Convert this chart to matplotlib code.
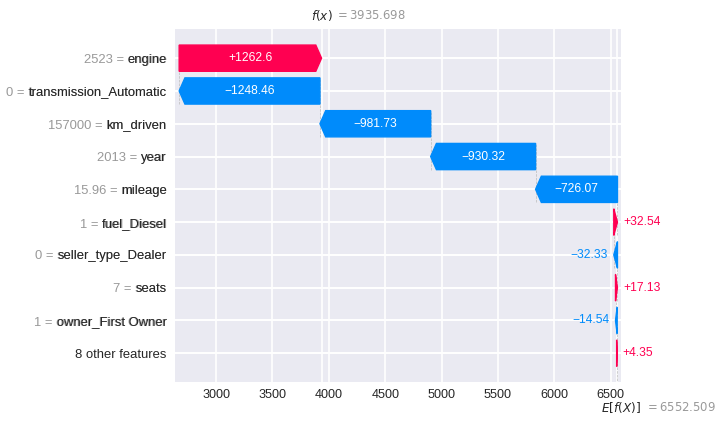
import numpy as np
import matplotlib
matplotlib.use("Agg")
import matplotlib.pyplot as plt

# waterfall data, top row first
features = ["engine", "transmission_Automatic", "km_driven", "year", "mileage",
            "fuel_Diesel", "seller_type_Dealer", "seats", "owner_First Owner",
            "8 other features"]
feature_values = ["2523", "0", "157000", "2013", "15.96", "1", "0", "7", "1", None]
shap_values = [1262.6, -1248.46, -981.73, -930.32, -726.07,
               32.54, -32.33, 17.13, -14.54, 4.35]
base_value = 6552.509
fx = 3935.698
xticks = [3000, 3500, 4000, 4500, 5000, 5500, 6000, 6500]

red = "#ff0051"
blue = "#008bfb"
grey = "#999999"
dark = "#262626"

plt.rcParams['font.family'] = ['Liberation Sans', 'DejaVu Sans']


def fmt(v):
    s = "%+0.02f" % v
    s = s.rstrip("0").rstrip(".")
    return s.replace("-", "\u2212")


fig = plt.figure(figsize=(7.18, 4.24), dpi=100)
ax = fig.add_axes([0.2437, 0.0991, 0.6212, 0.8325])
ax.set_facecolor("#EAEAF2")
for s in ax.spines.values():
    s.set_visible(False)
ax.grid(True, color="white", lw=1.2)
ax.set_axisbelow(True)

xmin, xmax = 2636, 6591
ax.set_xlim(xmin, xmax)
ax.set_ylim(-0.876, 9.89)

n = len(features)
rows = np.arange(n)[::-1]
bar_w = 0.8

# arrow head is a fixed size in pixels, converted to data units
ax_px = ax.get_position().width * fig.get_figwidth() * fig.dpi
hl = 5.76 * (xmax - xmin) / ax_px
renderer = fig.canvas.get_renderer()

# white lines for f(x) and E[f(X)]
ax.axvline(fx, color="white", lw=1.2, zorder=0.6)
ax.axvline(base_value, color="white", lw=1.2, zorder=0.6)

loc = fx
for i in range(n):
    v = shap_values[i]
    y = rows[i]
    loc -= v
    color = red if v >= 0 else blue
    d = abs(v)
    sign = 1 if v >= 0 else -1
    ax.arrow(loc, y, sign * max(d - hl, 1e-6), 0, head_length=min(d, hl),
             width=bar_w, head_width=bar_w, color=color, zorder=2)
    ax.plot([loc, loc], [y - 1 - 0.4, y + 0.4], color="#bbbbbb",
            ls="--", lw=0.5, zorder=1)

    # label inside the bar if it fits, otherwise next to it
    txt = ax.text(loc + v / 2, y, fmt(v), ha="center", va="center",
                  color="white", fontsize=8.64, zorder=3)
    tw = txt.get_window_extent(renderer).width
    bw = d * ax_px / (xmax - xmin)
    if tw > bw - 4:
        txt.remove()
        ax.annotate(fmt(v), (loc + v, y), xytext=(4 * sign, 0),
                    textcoords="offset points",
                    ha="left" if v >= 0 else "right", va="center",
                    color=color, fontsize=8.64, zorder=3)

ax.set_ylim(-0.876, 9.89)

grey_labels = [f"{val} = {name}" if val is not None else ""
               for val, name in zip(feature_values, features)]
ax.set_yticks(list(rows) + list(rows + 1e-8), grey_labels + features)
ticklabels = ax.yaxis.get_majorticklabels()
for k, t in enumerate(ticklabels):
    t.set_color(grey if k < n else dark)
    t.set_fontsize(9.36)
ax.tick_params(axis="y", length=0, pad=6)

ax.set_xticks(xticks)
ax.tick_params(axis="x", length=0, pad=5, labelsize=9.1, labelcolor=dark)

ax.annotate("$f(x)$", (fx, 1), xycoords=("data", "axes fraction"),
            xytext=(8.2, 10), textcoords="offset points",
            ha="right", va="center", fontsize=8.64, color=dark)
ax.annotate("$ = %0.03f$" % fx, (fx, 1), xycoords=("data", "axes fraction"),
            xytext=(9.6, 10), textcoords="offset points",
            ha="left", va="center", fontsize=8.35, color=grey)
ax.annotate("$E[f(X)]$", (base_value, 0), xycoords=("data", "axes fraction"),
            xytext=(17.6, -18.7), textcoords="offset points",
            ha="right", va="center", fontsize=8.64, color=dark)
ax.annotate("$ = %0.03f$" % base_value, (base_value, 0),
            xycoords=("data", "axes fraction"),
            xytext=(20.3, -18.7), textcoords="offset points",
            ha="left", va="center", fontsize=8.35, color=grey)

fig.savefig("out.png", dpi=100)
